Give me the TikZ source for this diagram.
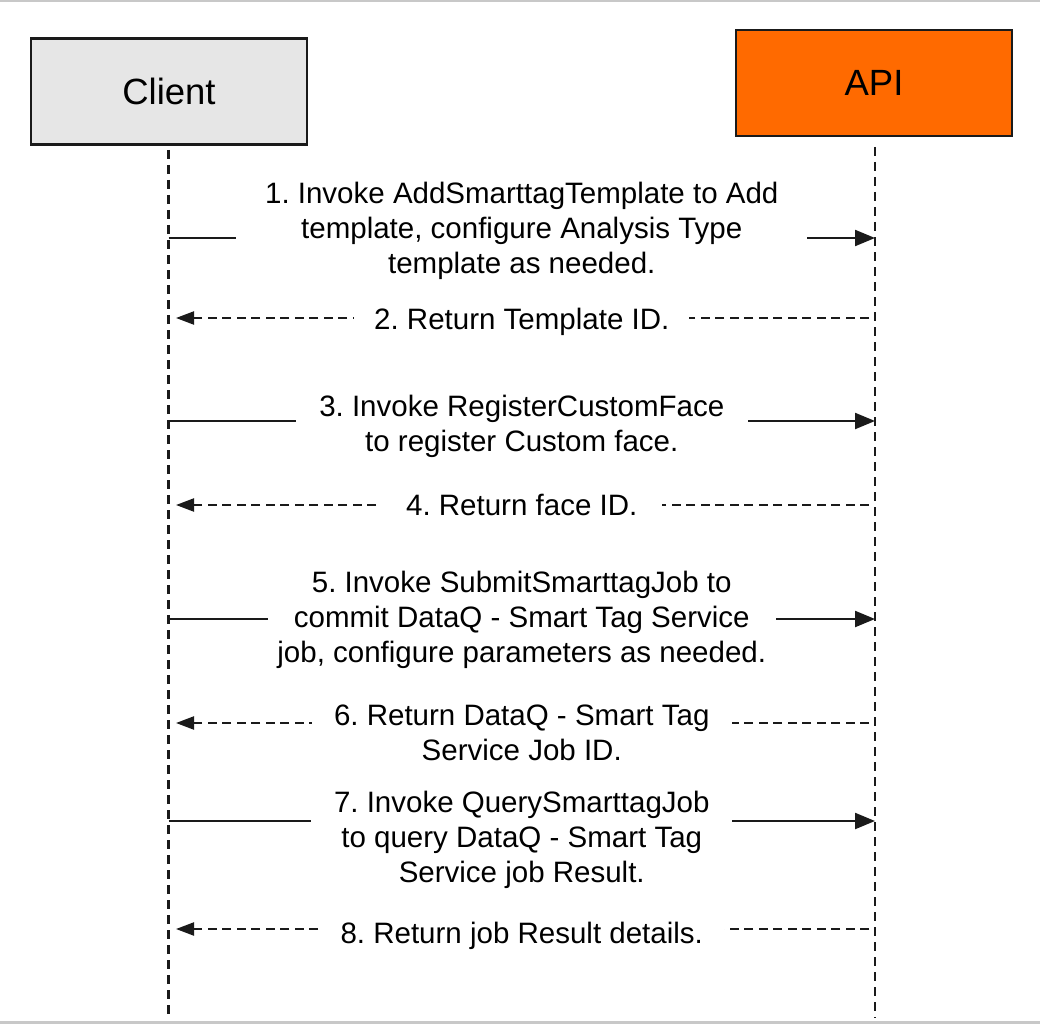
\documentclass[tikz,border=0pt]{standalone}
\usepackage{fontspec}
\setmainfont{Liberation Sans}
\usetikzlibrary{arrows.meta}
\definecolor{clientfill}{HTML}{E6E6E6}
\definecolor{apifill}{HTML}{FF6A00}
\definecolor{edgegray}{HTML}{C8C8C8}
\definecolor{ink}{HTML}{1A1A1A}
\frenchspacing
\begin{document}
\begin{tikzpicture}[x=1pt,y=-1pt,
  actor/.style={draw=ink, line width=2.5pt, minimum width=276pt, minimum height=106pt,
    font=\fontsize{36.5}{40}\selectfont, inner sep=0pt},
  lifeline/.style={draw=ink, line width=2.3pt, dash pattern=on 9pt off 6pt},
  callmsg/.style={draw=ink, line width=2.2pt, -{Triangle[length=20pt,width=16pt]}},
  retmsg/.style={draw=ink, line width=2.2pt, dash pattern=on 9pt off 5.5pt,
    -{Triangle[length=18pt,width=13pt]}, shorten <=6pt, shorten >=7.5pt},
  lbl/.style={fill=white, align=center, font=\fontsize{29.5}{35}\selectfont,
    inner xsep=0pt, inner ysep=4pt, anchor=base}
]
\useasboundingbox (0,0) rectangle (1040,1024);
\fill[white] (0,0) rectangle (1040,1024);
\fill[edgegray] (0,0) rectangle (1040,2.5);
\fill[edgegray] (0,1021) rectangle (1040,1024);

\node[actor, fill=clientfill] (client) at (169,91.5) {Client};
\node[actor, fill=apifill] (api) at (874,83) {API};

\coordinate (cltop) at (168.5,150);
\coordinate (clend) at (168.5,1018);
\coordinate (apitop) at (875,147);
\coordinate (apiend) at (875,1018);
\draw[lifeline] (cltop) -- (clend);
\draw[lifeline] (apitop) -- (apiend);

\foreach \i/\y in {1/238,2/318,3/421,4/505,5/619,6/723,7/821,8/929}{
  \coordinate (c\i) at (168.5,\y);
  \coordinate (a\i) at (875,\y);
}

\draw[callmsg] (c1) -- (a1) node[lbl, midway, yshift=-35pt, minimum width=571pt]
  {1. Invoke AddSmarttagTemplate to Add\\template, configure Analysis Type\\template as needed.};
\draw[retmsg] (a2) -- (c2) node[lbl, midway, yshift=-11.5pt, minimum width=335pt]
  {2. Return Template ID.};
\draw[callmsg] (c3) -- (a3) node[lbl, midway, yshift=-30pt, minimum width=452pt]
  {3. Invoke RegisterCustomFace\\to register Custom face.};
\draw[retmsg] (a4) -- (c4) node[lbl, midway, yshift=-10pt, minimum width=280pt]
  {4. Return face ID.};
\draw[callmsg] (c5) -- (a5) node[lbl, midway, yshift=-43pt, minimum width=508pt]
  {5. Invoke SubmitSmarttagJob to\\commit DataQ - Smart Tag Service\\job, configure parameters as needed.};
\draw[retmsg] (a6) -- (c6) node[lbl, midway, yshift=-37pt, minimum width=420pt]
  {6. Return DataQ - Smart Tag\\Service Job ID.};
\draw[callmsg] (c7) -- (a7) node[lbl, midway, yshift=-61pt, minimum width=421pt]
  {7. Invoke QuerySmarttagJob\\to query DataQ - Smart Tag\\Service job Result.};
\draw[retmsg] (a8) -- (c8) node[lbl, midway, yshift=-14pt, minimum width=404pt]
  {8. Return job Result details.};
\end{tikzpicture}
\end{document}
